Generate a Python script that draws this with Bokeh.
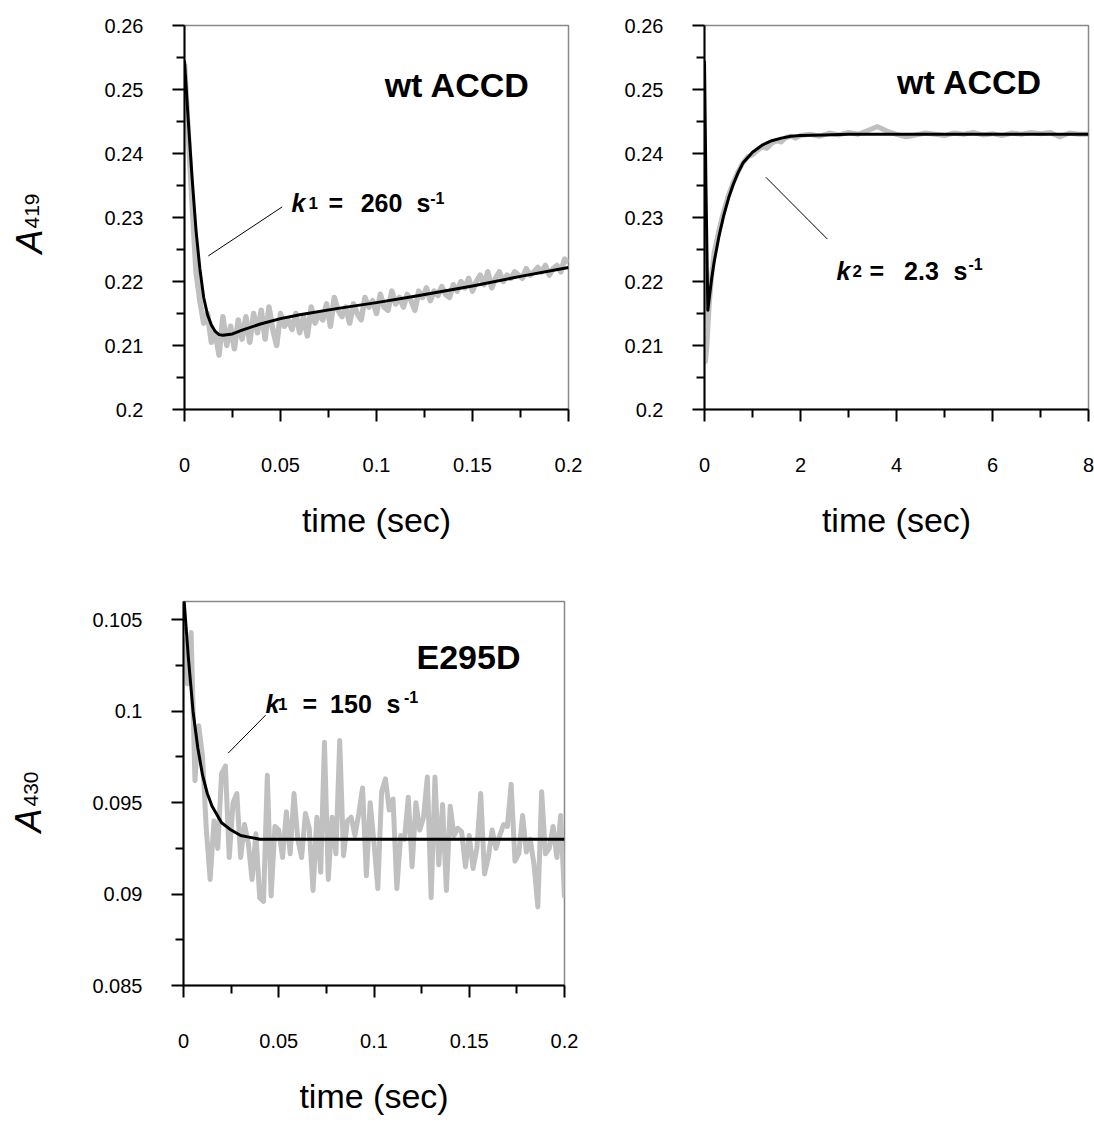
import numpy as np
from bokeh.plotting import figure
from bokeh.models import FixedTicker, CustomJSTickFormatter, Label, Range1d
from bokeh.layouts import column, row
from bokeh.embed import file_html
from bokeh.resources import INLINE

FONT = "Liberation Sans"
GRAY = "#c0c0c0"

# ---------------- Panel 1 : wt ACCD, short time ----------------
p1_data_t = np.linspace(0, 0.2, 101)
p1_data_a = [0.2540, 0.2430, 0.2320, 0.2215, 0.2170, 0.2135, 0.2150, 0.2105, 0.2120, 0.2085,
             0.2145, 0.2100, 0.2130, 0.2095, 0.2140, 0.2110, 0.2145, 0.2105, 0.2150, 0.2120,
             0.2155, 0.2110, 0.2160, 0.2125, 0.2100, 0.2150, 0.2130, 0.2140, 0.2125, 0.2150,
             0.2120, 0.2145, 0.2115, 0.2160, 0.2135, 0.2150, 0.2140, 0.2165, 0.2130, 0.2175,
             0.2155, 0.2145, 0.2160, 0.2135, 0.2165, 0.2150, 0.2140, 0.2175, 0.2160, 0.2170,
             0.2150, 0.2180, 0.2160, 0.2155, 0.2185, 0.2165, 0.2175, 0.2160, 0.2180, 0.2170,
             0.2155, 0.2185, 0.2175, 0.2190, 0.2170, 0.2185, 0.2178, 0.2192, 0.2180, 0.2175,
             0.2195, 0.2185, 0.2200, 0.2190, 0.2205, 0.2185, 0.2200, 0.2210, 0.2195, 0.2215,
             0.2190, 0.2205, 0.2215, 0.2200, 0.2210, 0.2205, 0.2215, 0.2210, 0.2205, 0.2220,
             0.2210, 0.2215, 0.2222, 0.2215, 0.2225, 0.2210, 0.2220, 0.2225, 0.2215, 0.2235,
             0.2230]
p1_fit_t = [0, 0.002, 0.004, 0.006, 0.008, 0.010, 0.012, 0.014, 0.016, 0.018, 0.020,
            0.025, 0.030, 0.040, 0.050, 0.060, 0.080, 0.100, 0.120, 0.150, 0.175, 0.200]
p1_fit_a = [0.2545, 0.2450, 0.2360, 0.2280, 0.2220, 0.2175, 0.2148, 0.2132, 0.2122, 0.2117, 0.2116,
            0.2118, 0.2124, 0.2134, 0.2142, 0.2148, 0.2158, 0.2167, 0.2177, 0.2193, 0.2208, 0.2222]

# ---------------- Panel 2 : wt ACCD, long time ----------------
p2_data_t = [0, 0.02, 0.05, 0.08, 0.1, 0.15, 0.2, 0.3, 0.4, 0.5, 0.6, 0.7, 0.8, 0.9, 1.0, 1.1,
             1.2, 1.3, 1.4, 1.5, 1.6, 1.7, 1.8, 1.9, 2.0, 2.2, 2.4, 2.6, 2.8, 3.0, 3.2, 3.4,
             3.6, 3.8, 4.0, 4.2, 4.4, 4.6, 4.8, 5.0, 5.2, 5.4, 5.6, 5.8, 6.0, 6.2, 6.4, 6.6,
             6.8, 7.0, 7.2, 7.4, 7.6, 7.8, 8.0]
p2_data_a = [0.2200, 0.2075, 0.2100, 0.2140, 0.2165, 0.2210, 0.2245, 0.2280, 0.2310, 0.2335,
             0.2355, 0.2372, 0.2385, 0.2395, 0.2398, 0.2405, 0.2410, 0.2408, 0.2416, 0.2420,
             0.2418, 0.2425, 0.2427, 0.2424, 0.2428, 0.2430, 0.2427, 0.2432, 0.2429, 0.2433,
             0.2430, 0.2436, 0.2442, 0.2435, 0.2430, 0.2426, 0.2429, 0.2432, 0.2430, 0.2428,
             0.2432, 0.2430, 0.2433, 0.2429, 0.2431, 0.2428, 0.2432, 0.2430, 0.2433, 0.2431,
             0.2433, 0.2426, 0.2432, 0.2430, 0.2430]
p2_fit_t = [0, 0.03, 0.07, 0.1, 0.15, 0.2, 0.3, 0.4, 0.5, 0.6, 0.7, 0.8, 1.0, 1.2, 1.4, 1.6,
            1.8, 2.0, 2.5, 3.0, 4.0, 5.0, 6.0, 7.0, 8.0]
p2_fit_a = [0.2545, 0.2350, 0.2155, 0.2175, 0.2205, 0.2230, 0.2270, 0.2303, 0.2330, 0.2352,
            0.2370, 0.2385, 0.2402, 0.2413, 0.2420, 0.2424, 0.2427, 0.2428, 0.2429, 0.2430,
            0.2430, 0.2430, 0.2430, 0.2430, 0.2430]

# ---------------- Panel 3 : E295D ----------------
p3_data_t = np.linspace(0, 0.2, 101)
p3_data_a = [0.1040, 0.1015, 0.1043, 0.0962, 0.0992, 0.0975, 0.0935, 0.0908, 0.0940, 0.0925,
             0.0966, 0.0970, 0.0920, 0.0950, 0.0955, 0.0920, 0.0938, 0.0928, 0.0908, 0.0933,
             0.0898, 0.0896, 0.0965, 0.0899, 0.0937, 0.0935, 0.0920, 0.0945, 0.0922, 0.0955,
             0.0930, 0.0920, 0.0944, 0.0936, 0.0902, 0.0942, 0.0912, 0.0983, 0.0908, 0.0942,
             0.0922, 0.0984, 0.0921, 0.0940, 0.0942, 0.0932, 0.0944, 0.0958, 0.0910, 0.0950,
             0.0928, 0.0903, 0.0956, 0.0963, 0.0946, 0.0952, 0.0903, 0.0932, 0.0930, 0.0953,
             0.0915, 0.0950, 0.0935, 0.0942, 0.0964, 0.0898, 0.0964, 0.0916, 0.0949, 0.0902,
             0.0948, 0.0932, 0.0936, 0.0934, 0.0915, 0.0932, 0.0914, 0.0925, 0.0955, 0.0911,
             0.0920, 0.0935, 0.0925, 0.0932, 0.0938, 0.0937, 0.0960, 0.0918, 0.0922, 0.0943,
             0.0923, 0.0930, 0.0916, 0.0893, 0.0956, 0.0922, 0.0925, 0.0937, 0.0920, 0.0943,
             0.0898]
p3_fit_t = [0, 0.0025, 0.005, 0.0075, 0.010, 0.0125, 0.015, 0.020, 0.025, 0.030, 0.035,
            0.040, 0.050, 0.100, 0.150, 0.200]
p3_fit_a = [0.1065, 0.1030, 0.1000, 0.0980, 0.0965, 0.0955, 0.0948, 0.0939, 0.0935, 0.0932,
            0.0931, 0.0930, 0.0930, 0.0930, 0.0930, 0.0930]

# ---------------- axes / ticks ----------------
y_ticks_419 = [0.2, 0.21, 0.22, 0.23, 0.24, 0.25, 0.26]
y_minor_419 = [0.205, 0.215, 0.225, 0.235, 0.245, 0.255]
x_ticks_short = [0, 0.05, 0.1, 0.15, 0.2]
x_minor_short = [0.025, 0.075, 0.125, 0.175]
x_ticks_long = [0, 2, 4, 6, 8]
x_minor_long = [1, 3, 5, 7]
y_ticks_430 = [0.085, 0.09, 0.095, 0.1, 0.105]
y_minor_430 = [0.0875, 0.0925, 0.0975, 0.1025]

FMT = "let s = tick.toFixed(4); s = s.replace(/0+$/, ''); s = s.replace(/\\.$/, ''); return s;"


def make_fig(width, height, xr, yr, xt, xm, yt, ym, mb_left, mb_right, mb_top, mb_bottom):
    p = figure(width=width, height=height, x_range=Range1d(*xr), y_range=Range1d(*yr),
               output_backend="svg", toolbar_location=None,
               min_border_left=mb_left, min_border_right=mb_right,
               min_border_top=mb_top, min_border_bottom=mb_bottom)
    p.xgrid.visible = False
    p.ygrid.visible = False
    p.outline_line_color = "#888888"
    p.outline_line_width = 1.5
    p.background_fill_color = "white"
    p.border_fill_color = "white"
    for ax, ticks, minor in ((p.xaxis[0], xt, xm), (p.yaxis[0], yt, ym)):
        ax.ticker = FixedTicker(ticks=ticks, minor_ticks=minor)
        ax.formatter = CustomJSTickFormatter(code=FMT)
        ax.axis_line_color = "black"
        ax.axis_line_width = 2
        ax.major_tick_line_color = "black"
        ax.major_tick_line_width = 2
        ax.minor_tick_line_color = "black"
        ax.minor_tick_line_width = 2
        ax.major_tick_in = 0
        ax.major_tick_out = 12
        ax.minor_tick_in = 0
        ax.minor_tick_out = 8
        ax.major_label_text_font = FONT
        ax.major_label_text_font_size = "20px"
        ax.major_label_text_color = "black"
    p.xaxis.major_label_standoff = 36
    p.yaxis.major_label_standoff = 29
    p.xaxis.axis_label = "time (sec)"
    p.xaxis.axis_label_text_font = FONT
    p.xaxis.axis_label_text_font_size = "34px"
    p.xaxis.axis_label_text_font_style = "normal"
    p.xaxis.axis_label_text_color = "black"
    p.xaxis.axis_label_standoff = 26
    return p


def side_fig(width, height, mb_top, mb_bottom, y_top, y_bottom):
    # narrow panel holding the rotated y-axis title; its frame is aligned with the
    # neighbouring plot frame, and its y range runs in page pixels (top -> bottom)
    s = figure(width=width, height=height, x_range=Range1d(0, width),
               y_range=Range1d(y_bottom, y_top),
               output_backend="svg", toolbar_location=None,
               x_axis_location=None, y_axis_location=None,
               min_border_left=0, min_border_right=0,
               min_border_top=mb_top, min_border_bottom=mb_bottom)
    s.grid.visible = False
    s.outline_line_color = None
    s.background_fill_color = "white"
    s.border_fill_color = "white"
    return s


def txt(p, x, y, text, size, style="bold", align="left", angle=0.0):
    p.add_layout(Label(x=x, y=y, text=text, text_font=FONT, text_font_size=size,
                       text_font_style=style, text_align=align, text_baseline="alphabetic",
                       text_color="black", angle=angle))


# ---------------- Row 1 ----------------
s1 = side_fig(68, 584, 25, 175, 25, 409)
txt(s1, 29, 253, "A", "36px", style="italic", angle=np.pi / 2)
txt(s1, 31, 228, "419", "21px", style="normal", angle=np.pi / 2)

p1 = make_fig(516, 584, (0, 0.2), (0.2, 0.26), x_ticks_short, x_minor_short,
              y_ticks_419, y_minor_419, 116, 16, 25, 175)
p1.line(p1_data_t, p1_data_a, line_color=GRAY, line_width=5.5, line_join="round")
p1.line(p1_fit_t, p1_fit_a, line_color="black", line_width=3, line_join="round")
p1.line([0.0124, 0.0509], [0.2240, 0.23166], line_color="black", line_width=1)
txt(p1, 0.180, 0.2507, "wt ACCD", "34px", align="right")
txt(p1, 0.0557, 0.23219, "k", "25px", style="bold italic")
txt(p1, 0.0646, 0.23219, "1", "17px")
txt(p1, 0.0750, 0.23219, "=", "25px")
txt(p1, 0.1026, 0.23219, "260", "25px", align="center")
txt(p1, 0.1208, 0.23219, "s", "25px")
txt(p1, 0.1280, 0.2330, "-1", "16px")

p2 = make_fig(510, 584, (0, 8), (0.2, 0.26), x_ticks_long, x_minor_long,
              y_ticks_419, y_minor_419, 120, 6, 25, 175)
p2.line(p2_data_t, p2_data_a, line_color=GRAY, line_width=5, line_join="round")
p2.line(p2_fit_t, p2_fit_a, line_color="black", line_width=3, line_join="round")
p2.line([1.279, 2.56], [0.23628, 0.22663], line_color="black", line_width=1)
txt(p2, 7.04, 0.2511, "wt ACCD", "34px", align="right")
txt(p2, 2.75, 0.2217, "k", "25px", style="bold italic")
txt(p2, 3.083, 0.2217, "2", "17px")
txt(p2, 3.4375, 0.2217, "=", "25px")
txt(p2, 4.52, 0.2217, "2.3", "25px", align="center")
txt(p2, 5.1875, 0.2217, "s", "25px")
txt(p2, 5.50, 0.22266, "-1", "16px")

# ---------------- Row 2 ----------------
s3 = side_fig(68, 538, 17, 137, 601, 985)
txt(s3, 28, 832, "A", "36px", style="italic", angle=np.pi / 2)
txt(s3, 30, 806, "430", "21px", style="normal", angle=np.pi / 2)

p3 = make_fig(516, 538, (0, 0.2), (0.085, 0.106), x_ticks_short, x_minor_short,
              y_ticks_430, y_minor_430, 115, 20, 17, 137)
p3.line(p3_data_t, p3_data_a, line_color=GRAY, line_width=5, line_join="round")
p3.line(p3_fit_t, p3_fit_a, line_color="black", line_width=3, line_join="round")
p3.line([0.02347, 0.04315], [0.09771, 0.09979], line_color="black", line_width=1)
txt(p3, 0.1769, 0.10296, "E295D", "34px", align="right")
txt(p3, 0.0430, 0.10042, "k", "25px", style="bold italic")
txt(p3, 0.0496, 0.10042, "1", "17px")
txt(p3, 0.0625, 0.10042, "=", "25px")
txt(p3, 0.0879, 0.10042, "150", "25px", align="center")
txt(p3, 0.1066, 0.10042, "s", "25px")
txt(p3, 0.1157, 0.10080, "-1", "16px")

layout = column(row(s1, p1, p2), row(s3, p3))
open("out.html", "w").write(file_html(layout, INLINE))
